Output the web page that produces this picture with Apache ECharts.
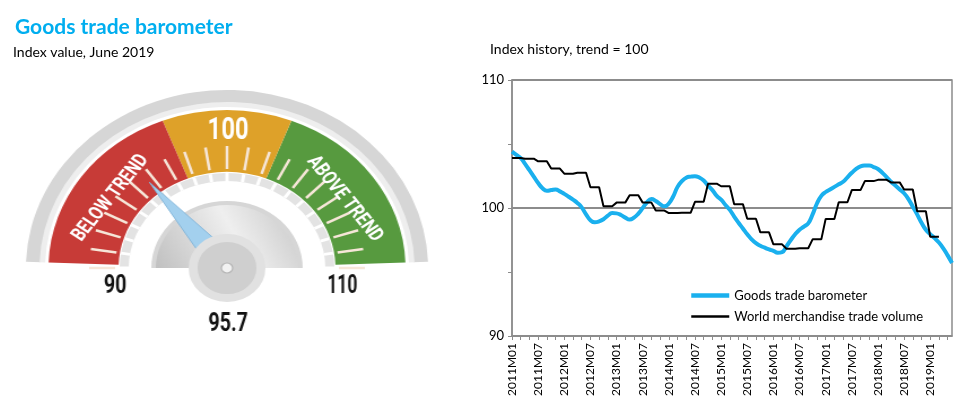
<!DOCTYPE html>
<html>
<head>
<meta charset="utf-8">
<title>Goods trade barometer</title>
<script src="https://cdn.jsdelivr.net/npm/echarts@6.0.0/dist/echarts.min.js"></script>
<style>
    html, body { margin: 0; padding: 0; background: #fff; }
    #main { position: absolute; left: 0; top: 0; width: 966px; height: 415px; }
    /* the original gauge picture is stretched sideways */
    #gauge { position: absolute; left: 0; top: 0; width: 455px; height: 415px;
             transform-origin: 227px 268px; transform: scaleX(1.13); }
</style>
</head>
<body>
<div id="main"></div>
<div id="gauge"></div>
<script>
// gauge: index value, June 2019
var gaugeValue = 95.7;
var gaugeMin = 90;
var gaugeMax = 110;
var trendBand = [97.65, 102.35];   // orange "on trend" zone

// history, 2011M01 .. 2019M06
var firstYear = 2011;
var lastYear = 2019;
var lastMonth = 6;
var months = [];
for (var y = firstYear; y <= lastYear; y++) {
    for (var m = 1; m <= 12; m++) {
        if (y === lastYear && m > lastMonth) break;
        months.push(y + 'M' + (m < 10 ? '0' + m : m));
    }
}

var barometer = [
    104.4, 104.15, 103.9, 103.45, 102.95, 102.45, 101.95, 101.55, 101.35, 101.4, 101.45, 101.3,
    101.1, 100.88, 100.65, 100.4, 100.05, 99.5, 99.05, 98.88, 98.95, 99.12, 99.4, 99.6,
    99.58, 99.45, 99.25, 99.1, 99.25, 99.56, 100.0, 100.45, 100.7, 100.55, 100.3, 100.13,
    100.35, 100.9, 101.65, 102.1, 102.37, 102.45, 102.49, 102.38, 102.15, 101.75, 101.4, 100.95,
    100.65, 100.24, 99.85, 99.33, 98.85, 98.4, 97.95, 97.55, 97.25, 97.05, 96.9, 96.76,
    96.65, 96.5, 96.55, 97.0, 97.5, 97.95, 98.3, 98.55, 98.8, 99.5, 100.35, 100.95,
    101.25, 101.45, 101.65, 101.85, 102.05, 102.4, 102.75, 103.05, 103.25, 103.32, 103.33, 103.2,
    103.05, 102.75, 102.42, 102.05, 101.75, 101.45, 101.15, 100.7, 100.1, 99.5, 98.85, 98.3,
    97.95, 97.65, 97.3, 96.85, 96.3, 95.7
];

// quarterly figures, repeated for each month of the quarter
var tradeVolume = [
    103.9, 103.9, 103.9, 103.85, 103.85, 103.85, 103.65, 103.65, 103.65, 103.08, 103.08, 103.08,
    102.68, 102.68, 102.68, 102.76, 102.76, 102.76, 101.62, 101.62, 101.62, 100.14, 100.14, 100.14,
    100.42, 100.42, 100.42, 101.0, 101.0, 101.0, 100.42, 100.42, 100.42, 99.8, 99.8, 99.8,
    99.6, 99.6, 99.6, 99.62, 99.62, 99.62, 100.48, 100.48, 100.48, 101.9, 101.9, 101.9,
    101.7, 101.7, 101.7, 100.3, 100.3, 100.3, 99.16, 99.16, 99.16, 98.1, 98.1, 98.1,
    97.16, 97.16, 97.16, 96.82, 96.82, 96.82, 96.86, 96.86, 96.86, 97.55, 97.55, 97.55,
    99.15, 99.15, 99.15, 100.45, 100.45, 100.45, 101.4, 101.4, 101.4, 102.1, 102.1, 102.1,
    102.2, 102.2, 102.2, 102.0, 102.0, 102.0, 101.45, 101.45, 101.45, 99.75, 99.75, 99.75,
    97.75, 97.75, 97.75
];

var yMin = 90;
var yMax = 110;
var yStep = 10;

// ---------------- history chart + titles ----------------
(function(){

    var chart = echarts.init(document.getElementById('main'));

    var option = {
        animation: false,
        textStyle: { fontFamily: 'Lato' },
        title: [
            {
                text: 'Goods trade barometer',
                left: 10, top: 12,
                textStyle: { color: '#00aeef', fontSize: 21, fontWeight: 'bold', fontFamily: 'Lato' }
            },
            {
                text: 'Index value, June 2019',
                left: 8, top: 40,
                textStyle: { color: '#000', fontSize: 14, fontWeight: 'normal', fontFamily: 'Lato' }
            },
            {
                text: 'Index history, trend = 100',
                left: 485, top: 37,
                textStyle: { color: '#000', fontSize: 14, fontWeight: 'normal', fontFamily: 'Lato' }
            }
        ],
        legend: {
            orient: 'vertical',
            left: 684, top: 284,
            itemWidth: 38, itemHeight: 14, itemGap: 8,
            itemStyle: { opacity: 0 },
            textStyle: { color: '#000', fontSize: 13, fontFamily: 'Lato' },
            data: [
                { name: 'Goods trade barometer', lineStyle: { width: 4.5 } },
                { name: 'World merchandise trade volume', lineStyle: { width: 2.4 } }
            ]
        },
        grid: {
            left: 512, right: 14, top: 80, bottom: 79,
            containLabel: false,
            outerBoundsMode: 'none',
            show: true,
            borderColor: '#8c8c8c',
            borderWidth: 1.5
        },
        xAxis: {
            type: 'category',
            data: months,
            boundaryGap: false,
            axisLine: { lineStyle: { color: '#8c8c8c', width: 1.5 } },
            axisTick: { interval: 1, length: 4, lineStyle: { color: '#8c8c8c' } },
            axisLabel: {
                interval: 5, rotate: 90, margin: 7,
                color: '#000', fontSize: 12, fontFamily: 'Lato'
            },
            splitLine: { show: false }
        },
        yAxis: {
            type: 'value',
            min: yMin, max: yMax, interval: yStep,
            axisLine: { show: true, lineStyle: { color: '#8c8c8c', width: 1.5 } },
            axisTick: { show: true, length: 4, lineStyle: { color: '#8c8c8c' } },
            minorTick: { show: true, splitNumber: 2, length: 4, lineStyle: { color: '#8c8c8c' } },
            axisLabel: { color: '#000', fontSize: 13, margin: 8, fontFamily: 'Lato' },
            splitLine: { show: true, lineStyle: { color: '#8c8c8c', width: 2 } }
        },
        series: [
            {
                name: 'Goods trade barometer',
                type: 'line',
                data: barometer,
                smooth: 0.5,
                symbol: 'none',
                itemStyle: { color: '#1ab0ee' },
                lineStyle: { color: '#1ab0ee', width: 4 }
            },
            {
                name: 'World merchandise trade volume',
                type: 'line',
                data: tradeVolume,
                symbol: 'none',
                itemStyle: { color: '#000' },
                lineStyle: { color: '#000', width: 2 }
            }
        ]
    };

    chart.setOption(option);
})();

// ---------------- gauge ----------------
(function(){

    var gauge = echarts.init(document.getElementById('gauge'));
    var cx = 227, cy = 268;
    var font = 'Roboto';

    // position of a value on the coloured band (band drawn from 178 to 2 degrees)
    function bandFrac(v) {
        var ang = 180 - (v - gaugeMin) / (gaugeMax - gaugeMin) * 180;
        return (178 - ang) / 176;
    }

    function ring(radius, width, color, start, end) {
        return {
            type: 'gauge',
            center: [cx, cy],
            radius: radius,
            startAngle: start,
            endAngle: end,
            silent: true,
            axisLine: { show: true, lineStyle: { width: width, color: color } },
            splitLine: { show: false },
            axisTick: { show: false },
            axisLabel: { show: false },
            pointer: { show: false },
            anchor: { show: false },
            title: { show: false },
            detail: { show: false },
            data: []
        };
    }

    var outer = ring(178, 13, [[1, '#d6d6d6']], 178, 2);
    var outerHi = ring(166, 5, [[1, '#eeeeee']], 178, 2);

    var band = ring(158, 62, [
        [bandFrac(trendBand[0]), '#c73b37'],
        [bandFrac(trendBand[1]), '#dea129'],
        [1, '#579a3f']
    ], 178, 2);

    // white ticks inside the band, one per index point
    var ticks = ring(122, 0, [[1, '#fff']], 180, 0);
    ticks.axisLine = { show: false, lineStyle: { width: 0 } };
    ticks.min = gaugeMin;
    ticks.max = gaugeMax;
    ticks.splitNumber = gaugeMax - gaugeMin;
    ticks.splitLine = { show: true, length: 23, distance: 0, lineStyle: { color: '#f6e6d8', width: 2.5 } };

    // light grey dashed ring under the band
    var dashRing = ring(95, 8, [[1, '#e3e3e3']], 180, 0);
    dashRing.splitNumber = gaugeMax - gaugeMin;
    dashRing.splitLine = { show: true, length: 8, distance: -8, lineStyle: { color: '#fff', width: 3 } };

    // grey hub
    var hubRim = ring(67, 67, [[1, '#d6d6d6']], 180, 0);
    var hub = ring(63, 63, [[1, {
        type: 'linear', x: 0, y: 1, x2: 1, y2: 0,
        colorStops: [
            { offset: 0, color: '#c0c0c0' },
            { offset: 0.55, color: '#efefef' },
            { offset: 1, color: '#c6c6c6' }
        ]
    }]], 180, 0);

    var needle = {
        type: 'gauge',
        center: [cx, cy],
        radius: 122,
        startAngle: 180,
        endAngle: 0,
        min: gaugeMin,
        max: gaugeMax,
        silent: true,
        axisLine: { show: false, lineStyle: { width: 0 } },
        splitLine: { show: false },
        axisTick: { show: false },
        axisLabel: { show: false },
        pointer: { show: true, length: 110, width: 13 },
        itemStyle: { color: '#a3d0ee', borderColor: '#7fb3d8', borderWidth: 0.8 },
        anchor: {
            show: true, showAbove: true, size: 60,
            itemStyle: { color: '#cfcfcf', borderColor: '#e1e1e1', borderWidth: 8 }
        },
        title: { show: false },
        detail: { show: false },
        data: [{ value: gaugeValue }]
    };

    var dot = ring(10, 0, [[1, '#fff']], 180, 0);
    dot.axisLine = { show: false, lineStyle: { width: 0 } };
    dot.anchor = {
        show: true, showAbove: true, size: 10,
        itemStyle: { color: '#f2f2f2', borderColor: '#b5b5b5', borderWidth: 1.2 }
    };

    function label(text, x, y, size, color, rot, sx) {
        return {
            type: 'text', x: x, y: y, z: 100,
            rotation: rot * Math.PI / 180,
            scaleX: sx,
            style: {
                text: text, fill: color,
                fontSize: size, fontWeight: 'bold', fontFamily: font,
                align: 'center', verticalAlign: 'middle'
            }
        };
    }

    gauge.setOption({
        animation: false,
        series: [outer, outerHi, band, ticks, dashRing, hubRim, hub, needle, dot],
        graphic: [
            label('100', 228, 131, 32, '#fff', 0, 0.66),
            label('BELOW TREND', 124, 198, 19, '#fff', 54, 0.8),
            label('ABOVE TREND', 331, 199, 19, '#fff', -54, 0.8),
            label(String(gaugeMin), 128, 287, 25, '#111', 0, 0.7),
            label(String(gaugeMax), 329, 287, 25, '#111', 0, 0.62),
            label(gaugeValue.toFixed(1), 228, 325, 25, '#111', 0, 0.7)
        ]
    });
})();
</script>
</body>
</html>
